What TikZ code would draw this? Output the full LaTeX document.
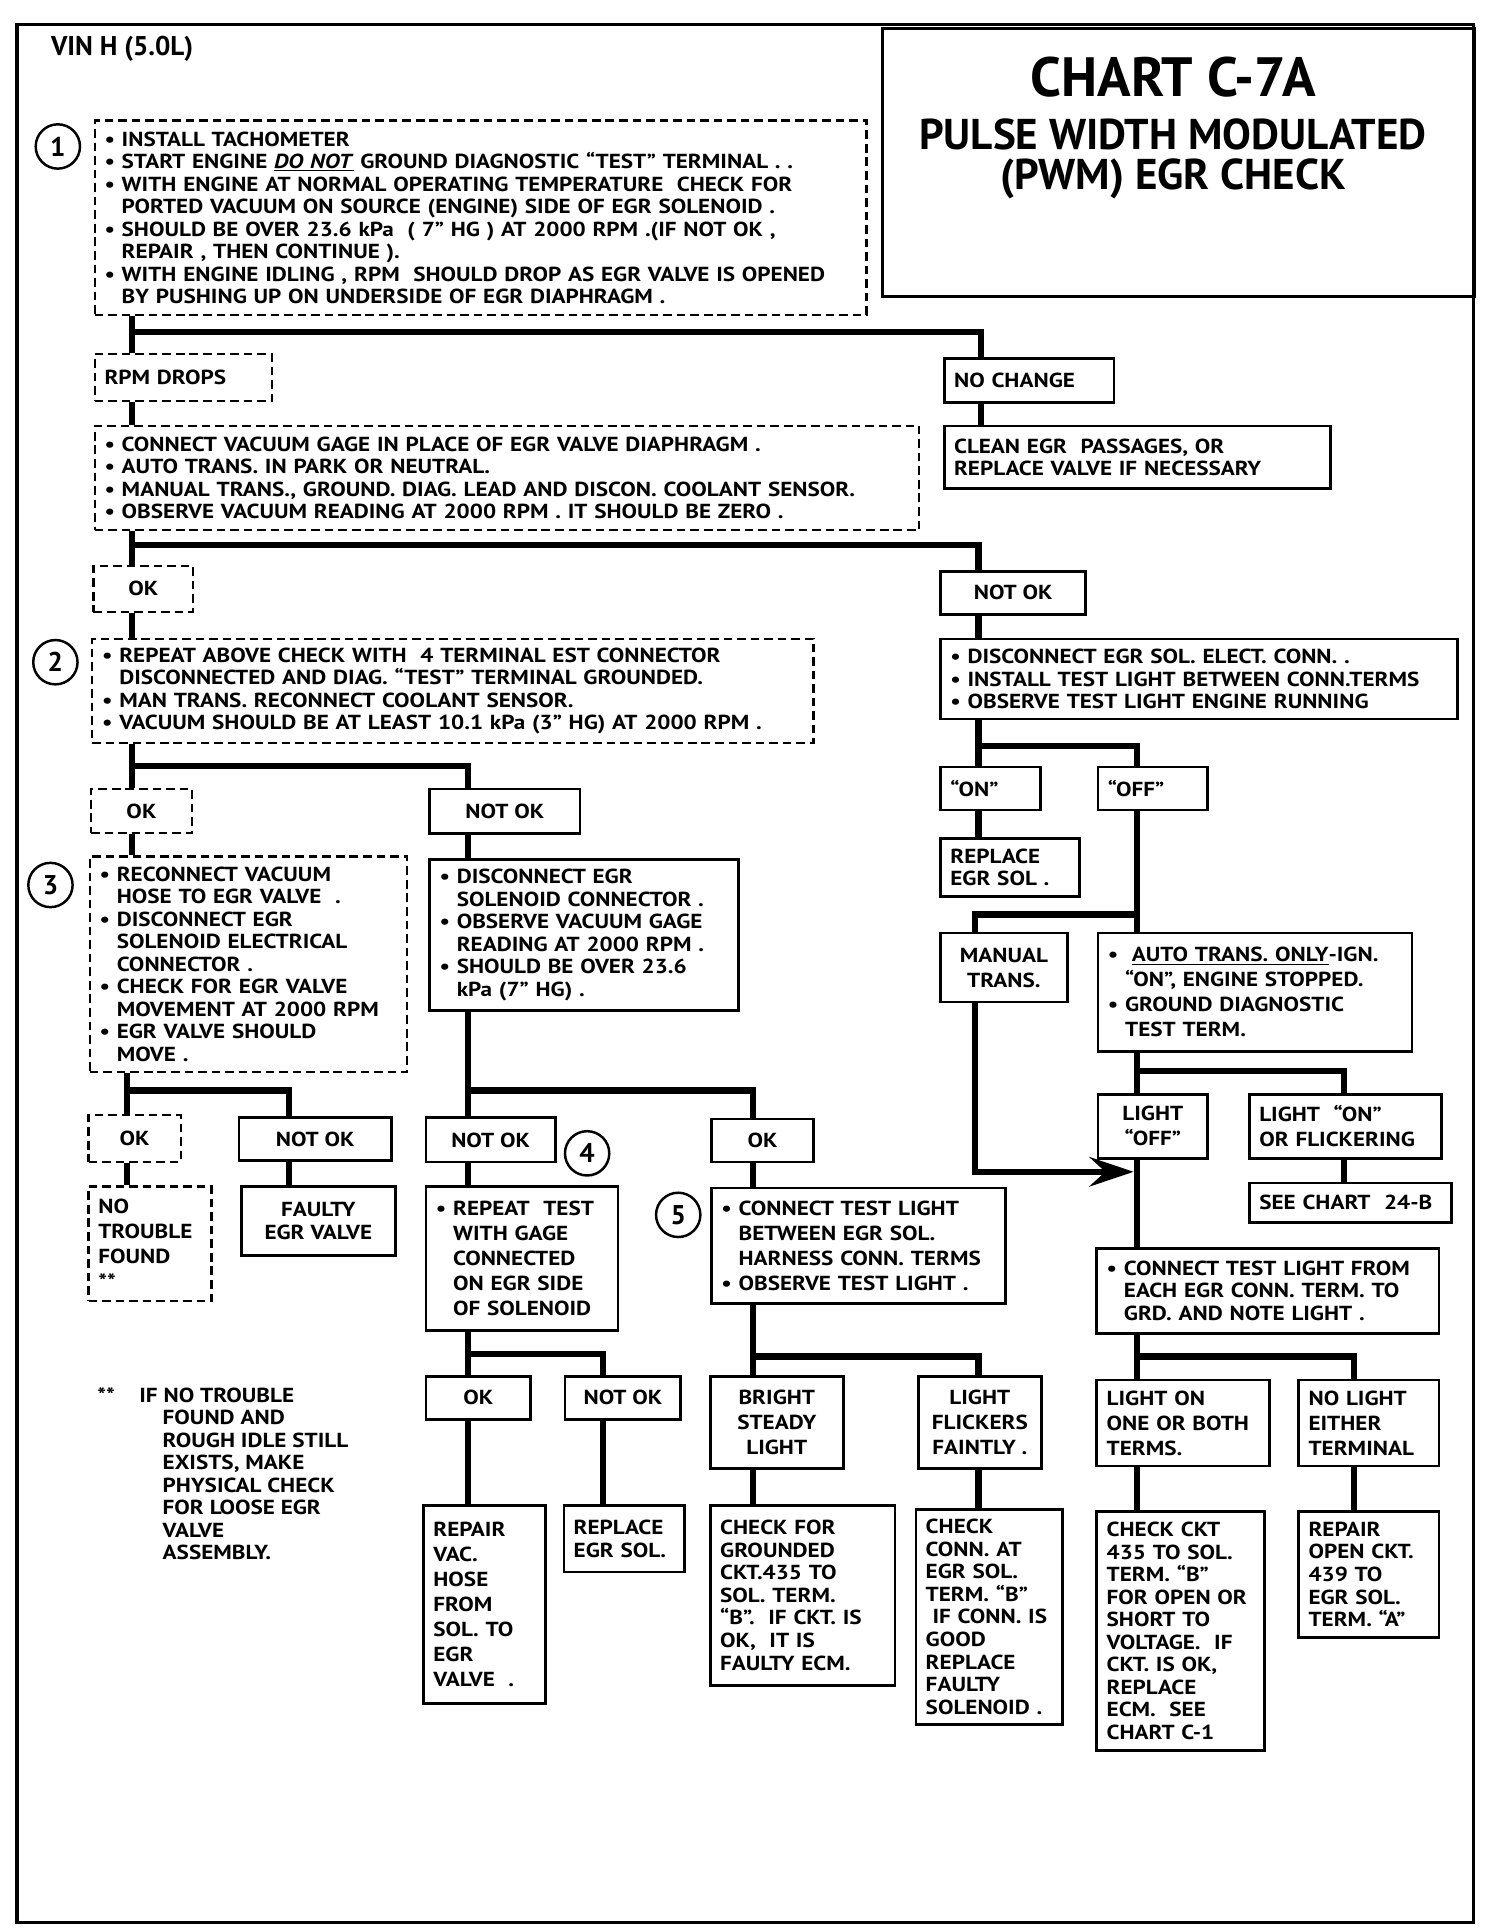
\documentclass[tikz,border=0pt]{standalone}
\usepackage{fontspec}
\setmainfont{PT Sans}[FakeStretch=1.14]
\newfontfamily\ttlfont{PT Sans}
\usetikzlibrary{arrows.meta}

\newcommand\txt{\fontsize{16.5}{18.3}\selectfont\bfseries\lineskiplimit=-30pt}
\newcommand\txtb{\fontsize{16.5}{20.3}\selectfont\bfseries\lineskiplimit=-30pt}
\newcommand\bul{\makebox[14pt][l]{\textbullet}}
\newcommand\bsp{\hspace*{14pt}}
\newcommand\lft[1]{\vbox{\let\\\cr\halign{##\hfil\cr#1\crcr}}}

\begin{document}
\begin{tikzpicture}[x=1pt, y=-1pt,
  box/.style={draw, line width=2.2pt, anchor=north west, inner xsep=8pt, inner ysep=2pt, align=left, font=\txt},
  dbox/.style={box, line width=1.8pt, dash pattern=on 7pt off 4pt},
  mid/.style={align=center},
  numc/.style={draw, circle, line width=2pt, minimum size=36pt, inner sep=0pt, font=\ttlfont\fontsize{22}{22}\selectfont\bfseries},
  link/.style={line width=5pt, line join=miter}]

  \useasboundingbox (0,0) rectangle (1222,1568);
  \draw[line width=3pt] (14,20) rectangle (1197,1562);

  % title block
  \node[draw, line width=2.2pt, anchor=north west, minimum width=481pt, minimum height=218pt, inner sep=0pt] (ttlbox) at (716,22) {};
  \node[font=\ttlfont\fontsize{45}{45}\selectfont\bfseries] (ttl) at (953,63) {CHART C-7A};
  \node[font=\ttlfont\fontsize{35}{32}\selectfont\bfseries, align=center] (sub) at (953,129) {PULSE WIDTH MODULATED\\(PWM) EGR CHECK};
  \node[anchor=west, font=\ttlfont\fontsize{22}{22}\selectfont\bfseries] (vin) at (38,40) {VIN H (5.0L)};

  % step numbers
  \node[numc] (n1) at (47,119) {1};
  \node[numc] (n2) at (45,538) {2};
  \node[numc] (n3) at (41,719) {3};
  \node[numc] (n4) at (477,937) {4};
  \node[numc] (n5) at (551,987) {5};

  % top of chart
  \node[dbox, text width=611pt, minimum height=158pt] (b1) at (76,97) {\lft{\bul INSTALL TACHOMETER\\
    \bul START ENGINE \underline{\textit{DO NOT}} GROUND DIAGNOSTIC “TEST” TERMINAL . .\\
    \bul WITH ENGINE AT NORMAL OPERATING TEMPERATURE\ \ CHECK FOR\\
    \bsp PORTED VACUUM ON SOURCE (ENGINE) SIDE OF EGR SOLENOID .\\
    \bul SHOULD BE OVER 23.6 kPa\ \ ( 7” HG ) AT 2000 RPM .(IF NOT OK ,\\
    \bsp REPAIR , THEN CONTINUE ).\\
    \bul WITH ENGINE IDLING , RPM\ \ SHOULD DROP AS EGR VALVE IS OPENED\\
    \bsp BY PUSHING UP ON UNDERSIDE OF EGR DIAPHRAGM .}};
  \node[dbox, text width=128pt, minimum height=38pt] (rpm) at (76,287) {RPM DROPS};
  \node[box, text width=122pt, minimum height=36pt] (nochg) at (766,290) {NO CHANGE};
  \node[box, text width=298pt, minimum height=51pt] (clean) at (766,345) {\lft{CLEAN EGR\ \ PASSAGES, OR\\REPLACE VALVE IF NECESSARY}};
  \node[dbox, text width=654pt, minimum height=85pt] (b2) at (76,345) {\lft{\bul CONNECT VACUUM GAGE IN PLACE OF EGR VALVE DIAPHRAGM .\\
    \bul AUTO TRANS. IN PARK OR NEUTRAL.\\
    \bul MANUAL TRANS., GROUND. DIAG. LEAD AND DISCON. COOLANT SENSOR.\\
    \bul OBSERVE VACUUM READING AT 2000 RPM . IT SHOULD BE ZERO .}};
  \node[dbox, mid, minimum width=81pt, minimum height=37pt] (ok1) at (75,459) {OK};
  \node[box, mid, minimum width=118pt, minimum height=35pt] (notok1) at (763,463) {NOT OK};
  \node[dbox, text width=570pt, minimum height=85pt] (b3) at (74,518) {\lft{\bul REPEAT ABOVE CHECK WITH\ \ 4 TERMINAL EST CONNECTOR\\
    \bsp DISCONNECTED AND DIAG. “TEST” TERMINAL GROUNDED.\\
    \bul MAN TRANS. RECONNECT COOLANT SENSOR.\\
    \bul VACUUM SHOULD BE AT LEAST 10.1 kPa (3” HG) AT 2000 RPM .}};

  % right column
  \node[box, text width=404pt, minimum height=65pt] (disc) at (763,518) {\lft{\bul DISCONNECT EGR SOL. ELECT. CONN. .\\
    \bul INSTALL TEST LIGHT BETWEEN CONN.TERMS\\
    \bul OBSERVE TEST LIGHT ENGINE RUNNING}};
  \node[box, text width=65pt, minimum height=35pt] (on) at (763,622) {“ON”};
  \node[box, text width=73pt, minimum height=35pt] (off) at (891,622) {“OFF”};
  \node[box, text width=97pt, minimum height=47pt] (repl1) at (763,680) {\lft{REPLACE\\EGR SOL .}};
  \node[box, mid, font=\txtb, minimum width=103pt, minimum height=56pt] (manual) at (763,757) {MANUAL\\TRANS.};
  \node[box, font=\txtb, text width=239pt, minimum height=96pt] (auto) at (891,757) {\lft{\bul\ \underline{AUTO TRANS. ONLY}-IGN.\\
    \bsp “ON”, ENGINE STOPPED.\\
    \bul GROUND DIAGNOSTIC\\
    \bsp TEST TERM.}};
  \node[box, mid, font=\txtb, minimum width=89pt, minimum height=52pt] (lightoff) at (891,888) {LIGHT\\“OFF”};
  \node[box, font=\txtb, text width=140pt, minimum height=52pt] (lighton) at (1014,888) {\lft{LIGHT\ \ “ON”\\OR FLICKERING}};
  \node[box, text width=148pt, minimum height=32pt] (see) at (1014,960) {SEE CHART\ \ 24-B};
  \node[box, text width=262pt, minimum height=69pt] (conn2) at (890,1013) {\lft{\bul CONNECT TEST LIGHT FROM\\
    \bsp EACH EGR CONN. TERM. TO\\
    \bsp GRD. AND NOTE LIGHT .}};
  \node[box, font=\txtb, text width=124pt, minimum height=70pt] (lon) at (890,1120) {\lft{LIGHT ON\\ONE OR BOTH\\TERMS.}};
  \node[box, font=\txtb, text width=98pt, minimum height=70pt] (nol) at (1054,1120) {\lft{NO LIGHT\\EITHER\\TERMINAL}};
  \node[box, text width=120pt, minimum height=194pt] (ckt) at (890,1227) {\lft{CHECK CKT\\435 TO SOL.\\TERM. “B”\\FOR OPEN OR\\SHORT TO\\VOLTAGE.\ \ IF\\CKT. IS OK,\\REPLACE\\ECM.\ \ SEE\\CHART C-1}};
  \node[box, text width=98pt, minimum height=102pt] (repopen) at (1054,1227) {\lft{REPAIR\\OPEN CKT.\\439 TO\\EGR SOL.\\TERM. “A”}};

  % left and middle columns
  \node[dbox, mid, minimum width=82pt, minimum height=36pt] (ok2) at (73,640) {OK};
  \node[box, mid, minimum width=122pt, minimum height=36pt] (notok2) at (348,640) {NOT OK};
  \node[dbox, text width=242pt, minimum height=175pt] (b4) at (72,695) {\lft{\bul RECONNECT VACUUM\\
    \bsp HOSE TO EGR VALVE\ \ .\\
    \bul DISCONNECT EGR\\
    \bsp SOLENOID ELECTRICAL\\
    \bsp CONNECTOR .\\
    \bul CHECK FOR EGR VALVE\\
    \bsp MOVEMENT AT 2000 RPM\\
    \bul EGR VALVE SHOULD\\
    \bsp MOVE .}};
  \node[box, text width=235pt, minimum height=123pt] (disc2) at (348,697) {\lft{\bul DISCONNECT EGR\\
    \bsp SOLENOID CONNECTOR .\\
    \bul OBSERVE VACUUM GAGE\\
    \bsp READING AT 2000 RPM .\\
    \bul SHOULD BE OVER 23.6\\
    \bsp kPa (7” HG) .}};
  \node[dbox, mid, minimum width=75pt, minimum height=38pt] (ok3) at (71,905) {OK};
  \node[box, mid, minimum width=124pt, minimum height=35pt] (notok3) at (193,907) {NOT OK};
  \node[box, mid, minimum width=105pt, minimum height=36pt] (notok4) at (345,907) {NOT OK};
  \node[box, mid, minimum width=83pt, minimum height=35pt] (ok4) at (577,908) {OK};
  \node[dbox, font=\txtb, text width=84pt, minimum height=93pt] (ntf) at (71,963) {\lft{NO\\TROUBLE\\FOUND\\{**}}};
  \node[box, mid, minimum width=125pt, minimum height=56pt] (faulty) at (195,963) {FAULTY\\EGR VALVE};
  \node[box, font=\txtb, text width=140pt, minimum height=117pt] (repeat) at (345,963) {\lft{\bul REPEAT\ \ TEST\\
    \bsp WITH GAGE\\
    \bsp CONNECTED\\
    \bsp ON EGR SIDE\\
    \bsp OF SOLENOID}};
  \node[box, font=\txtb, text width=223pt, minimum height=94pt] (conn1) at (577,964) {\lft{\bul CONNECT TEST LIGHT\\
    \bsp BETWEEN EGR SOL.\\
    \bsp HARNESS CONN. TERMS\\
    \bul OBSERVE TEST LIGHT .}};
  \node[box, mid, minimum width=85pt, minimum height=35pt] (ok5) at (345,1117) {OK};
  \node[box, mid, minimum width=94pt, minimum height=35pt] (notok5) at (458,1117) {NOT OK};
  \node[box, mid, font=\txtb, minimum width=108pt, minimum height=75pt] (bright) at (576,1117) {BRIGHT\\STEADY\\LIGHT};
  \node[box, mid, font=\txtb, minimum width=100pt, minimum height=75pt] (flick) at (745,1117) {LIGHT\\FLICKERS\\FAINTLY .};
  \node[box, font=\txtb, text width=83pt, minimum height=161pt] (repvac) at (343,1222) {\lft{REPAIR\\VAC.\\HOSE\\FROM\\SOL. TO\\EGR\\VALVE\ \ .}};
  \node[box, text width=82pt, minimum height=54pt] (replsol) at (457,1222) {\lft{REPLACE\\EGR SOL.}};
  \node[box, text width=134pt, minimum height=146pt] (grounded) at (576,1222) {\lft{CHECK FOR\\GROUNDED\\CKT.435 TO\\SOL. TERM.\\“B”.\ \ IF CKT. IS\\OK,\ \ IT IS\\FAULTY ECM.}};
  \node[box, text width=103pt, minimum height=175pt] (checkconn) at (743,1225) {\lft{CHECK\\CONN. AT\\EGR SOL.\\TERM. “B”\\\ IF CONN. IS\\GOOD\\REPLACE\\FAULTY\\SOLENOID .}};

  \node[anchor=north west, font=\txt, inner sep=0pt] (note) at (79,1127) {\lft{\makebox[34pt][l]{**}IF NO TROUBLE\\
    \hspace*{53pt}FOUND AND\\
    \hspace*{53pt}ROUGH IDLE STILL\\
    \hspace*{53pt}EXISTS, MAKE\\
    \hspace*{53pt}PHYSICAL CHECK\\
    \hspace*{53pt}FOR LOOSE EGR\\
    \hspace*{53pt}VALVE\\
    \hspace*{53pt}ASSEMBLY.}};

  % junctions
  \coordinate (ja) at (107,270);  \coordinate (jb) at (797,270);
  \coordinate (jc) at (107,443);  \coordinate (jd) at (795,443);
  \coordinate (je) at (795,606);  \coordinate (jf) at (924,606);
  \coordinate (jg) at (924,743);  \coordinate (jh) at (792,743);
  \coordinate (ji) at (792,952);  \coordinate (jk) at (921,952);
  \coordinate (jl) at (924,870);  \coordinate (jm) at (1092,870);
  \coordinate (jn) at (924,1102); \coordinate (jo) at (1100,1102);
  \coordinate (jp) at (107,622);  \coordinate (jq) at (380,622);
  \coordinate (jr) at (103,886);  \coordinate (js) at (235,886);
  \coordinate (jt) at (380,886);  \coordinate (ju) at (612,886);
  \coordinate (jv) at (380,1100); \coordinate (jw) at (490,1100);
  \coordinate (jx) at (612,1102); \coordinate (jy) at (795,1102);

  % connectors
  \draw[link] (b1.south -| ja) -- (rpm.north -| ja);
  \draw[link] (ja) -- (jb) -- (nochg.north -| jb);
  \draw[link] (nochg.south -| jb) -- (clean.north -| jb);
  \draw[link] (rpm.south -| ja) -- (b2.north -| ja);
  \draw[link] (b2.south -| jc) -- (ok1.north -| jc);
  \draw[link] (jc) -- (jd) -- (notok1.north -| jd);
  \draw[link] (ok1.south -| jc) -- (b3.north -| jc);
  \draw[link] (notok1.south -| jd) -- (disc.north -| jd);
  \draw[link] (disc.south -| je) -- (on.north -| je);
  \draw[link] (je) -- (jf) -- (off.north -| jf);
  \draw[link] (on.south -| je) -- (repl1.north -| je);
  \draw[link] (off.south -| jf) -- (auto.north -| jf);
  \draw[link] (jg) -- (jh) -- (manual.north -| jh);
  \draw[link, -{Stealth[length=36pt, width=24pt, inset=13pt]}] (manual.south -| jh) -- (ji) -- (jk);
  \draw[link] (auto.south -| jl) -- (lightoff.north -| jl);
  \draw[link] (jl) -- (jm) -- (lighton.north -| jm);
  \draw[link] (lighton.south -| jm) -- (see.north -| jm);
  \draw[link] (lightoff.south -| jl) -- (conn2.north -| jl);
  \draw[link] (conn2.south -| jn) -- (lon.north -| jn);
  \draw[link] (jn) -- (jo) -- (nol.north -| jo);
  \draw[link] (lon.south -| jn) -- (ckt.north -| jn);
  \draw[link] (nol.south -| jo) -- (repopen.north -| jo);
  \draw[link] (b3.south -| jp) -- (ok2.north -| jp);
  \draw[link] (jp) -- (jq) -- (notok2.north -| jq);
  \draw[link] (ok2.south -| jp) -- (b4.north -| jp);
  \draw[link] (notok2.south -| jq) -- (disc2.north -| jq);
  \draw[link] (b4.south -| jr) -- (ok3.north -| jr);
  \draw[link] (jr) -- (js) -- (notok3.north -| js);
  \draw[link] (ok3.south -| jr) -- (ntf.north -| jr);
  \draw[link] (notok3.south -| js) -- (faulty.north -| js);
  \draw[link] (disc2.south -| jt) -- (notok4.north -| jt);
  \draw[link] (jt) -- (ju) -- (ok4.north -| ju);
  \draw[link] (notok4.south -| jt) -- (repeat.north -| jt);
  \draw[link] (ok4.south -| ju) -- (conn1.north -| ju);
  \draw[link] (repeat.south -| jv) -- (ok5.north -| jv);
  \draw[link] (jv) -- (jw) -- (notok5.north -| jw);
  \draw[link] (ok5.south -| jv) -- (repvac.north -| jv);
  \draw[link] (notok5.south -| jw) -- (replsol.north -| jw);
  \draw[link] (conn1.south -| jx) -- (bright.north -| jx);
  \draw[link] (jx) -- (jy) -- (flick.north -| jy);
  \draw[link] (bright.south -| jx) -- (grounded.north -| jx);
  \draw[link] (flick.south -| jy) -- (checkconn.north -| jy);
\end{tikzpicture}
\end{document}
